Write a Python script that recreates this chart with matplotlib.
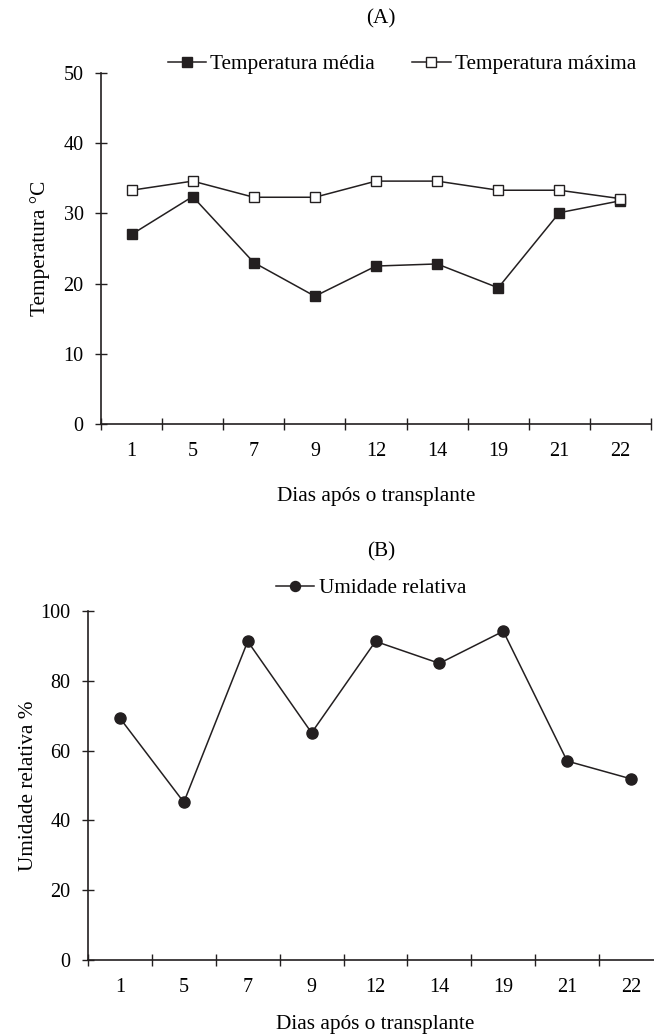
import matplotlib
matplotlib.use("Agg")
import matplotlib.pyplot as plt
from matplotlib.ticker import FixedLocator

days = ["1", "5", "7", "9", "12", "14", "19", "21", "22"]
temp_media = [27.0, 32.4, 23.0, 18.2, 22.5, 22.8, 19.4, 30.1, 31.8]
temp_maxima = [33.3, 34.6, 32.3, 32.3, 34.6, 34.6, 33.3, 33.3, 32.1]
umidade = [69.3, 45.2, 91.3, 65.1, 91.3, 85.0, 94.2, 57.0, 51.9]

plt.rcParams['font.family'] = ['Liberation Serif', 'DejaVu Serif']
FS = 15.3
FT = 14.5
col = '#231f20'

fig = plt.figure(figsize=(6.54, 10.34), dpi=100)

def style(ax, ymax, ystep):
    x = list(range(len(days)))
    ax.set_xlim(-0.5, len(days) - 0.5)
    ax.set_ylim(0, ymax)
    ax.set_xticks(x)
    ax.set_xticklabels(days, fontsize=FT)
    ax.xaxis.set_minor_locator(FixedLocator([i - 0.5 for i in range(len(days) + 1)]))
    ax.tick_params(axis='x', which='major', length=0, pad=13)
    ax.tick_params(axis='x', which='minor', direction='inout', length=9, width=1, color=col)
    ax.set_yticks(range(0, ymax + 1, ystep))
    ax.tick_params(axis='y', direction='inout', length=9, width=1, color=col, labelsize=FT, pad=8)
    for s in ['top', 'right']:
        ax.spines[s].set_visible(False)
    for s in ['left', 'bottom']:
        ax.spines[s].set_color(col)
        ax.spines[s].set_linewidth(1.2)
    return x

# Panel A
axA = fig.add_axes([101/654, 1-424/1034, 550/654, 351/1034])
x = style(axA, 50, 10)
axA.plot(x, temp_media, color=col, lw=1.1, marker='s', ms=7.5, mfc=col, mec=col,
         label='Temperatura média', clip_on=False)
axA.plot(x, temp_maxima, color=col, lw=1.1, marker='s', ms=7.5, mfc='white', mec=col,
         mew=1.0, label='Temperatura máxima', clip_on=False)
axA.set_ylabel('Temperatura °C', fontsize=FS, labelpad=10)
axA.set_xlabel('Dias após o transplante', fontsize=FS, labelpad=19)
fig.text(381/654, 1-19/1034, '(A)', ha='center', va='center', fontsize=FS)
axA.legend(loc='center', bbox_to_anchor=(402/654, 1-64/1034), bbox_transform=fig.transFigure,
           ncol=2, frameon=False, fontsize=FS, handlelength=1.8, handletextpad=0.2,
           columnspacing=1.75, markerscale=0.9)

# Panel B
axB = fig.add_axes([88/654, 1-960/1034, 575/654, 349/1034])
x = style(axB, 100, 20)
axB.plot(x, umidade, color=col, lw=1.1, marker='o', ms=8, mfc=col, mec=col,
         label='Umidade relativa', clip_on=False)
axB.set_ylabel('Umidade relativa %', fontsize=FS, labelpad=2)
axB.set_xlabel('Dias após o transplante', fontsize=FS, labelpad=13)
fig.text(381/654, 1-552/1034, '(B)', ha='center', va='center', fontsize=FS)
axB.legend(loc='center', bbox_to_anchor=(371/654, 1-588/1034), bbox_transform=fig.transFigure,
           frameon=False, fontsize=FS, handlelength=1.8, handletextpad=0.2, markerscale=0.9)

fig.savefig('out.png', dpi=100)
